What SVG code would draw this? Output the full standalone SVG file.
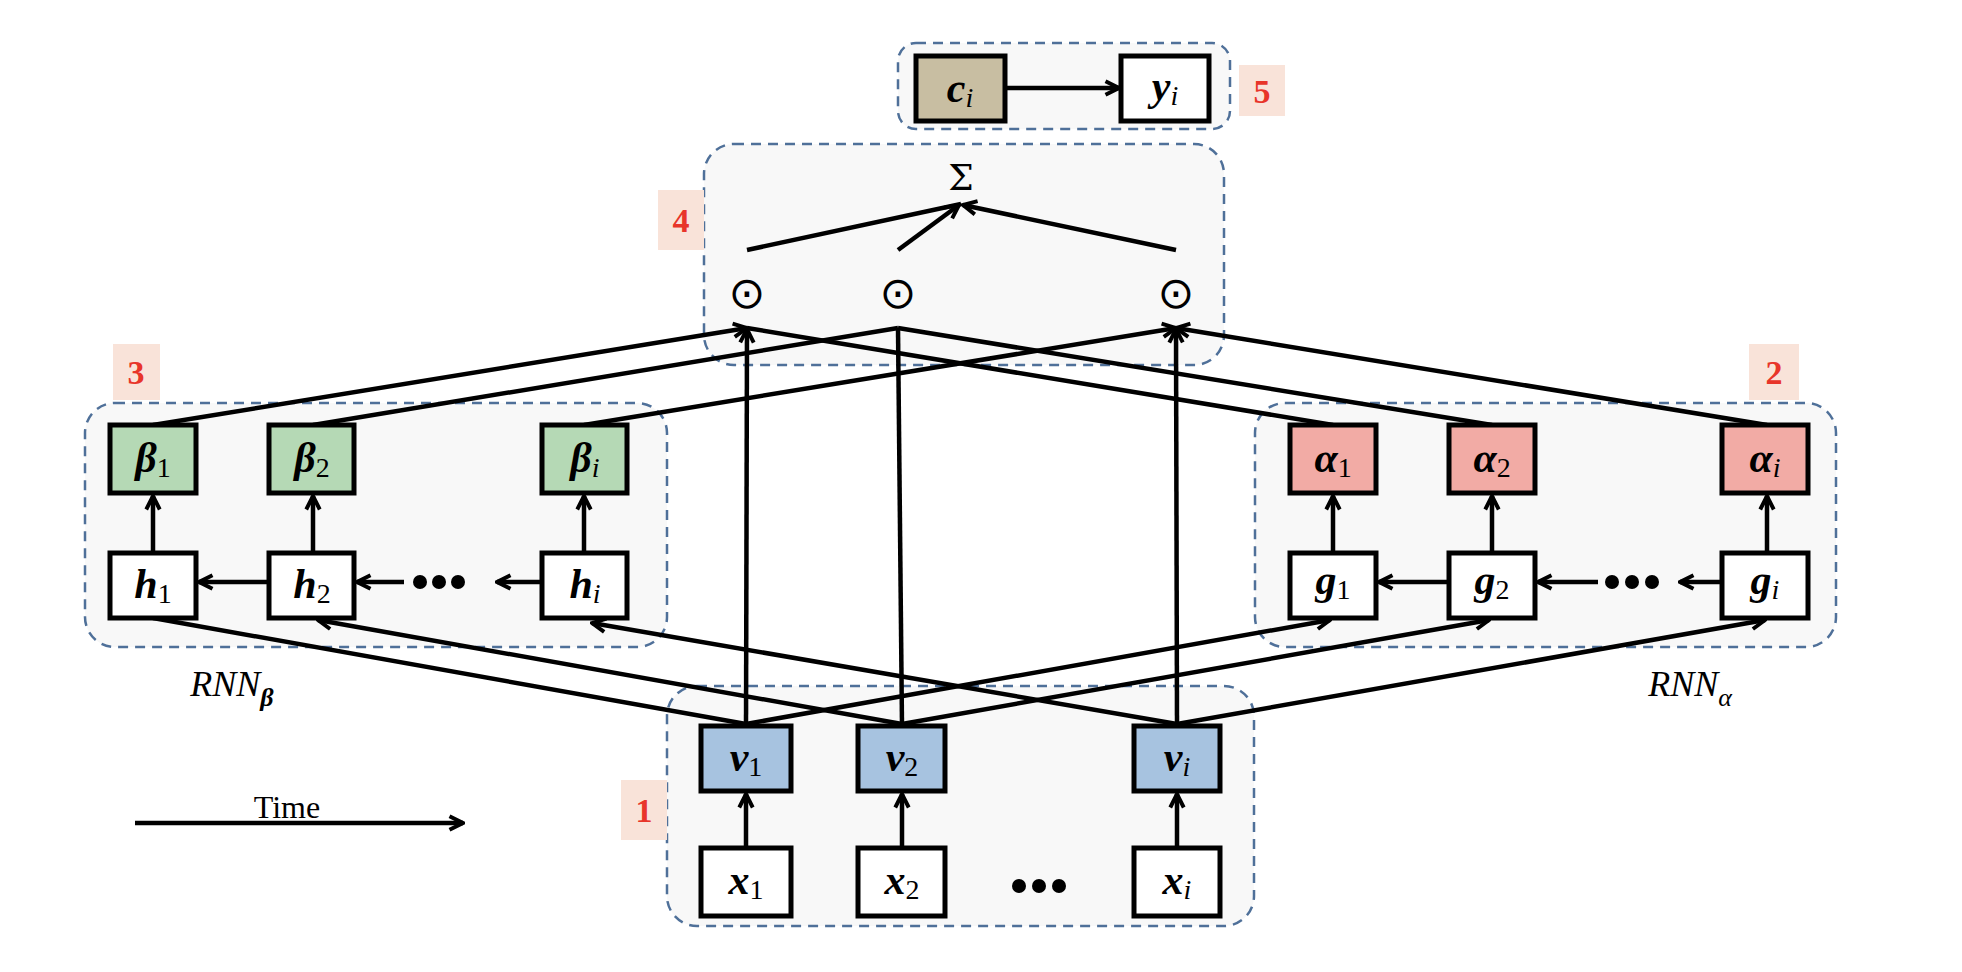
<svg xmlns="http://www.w3.org/2000/svg" width="1962" height="972" viewBox="0 0 1962 972">
<defs>
<marker id="ah" viewBox="0 0 16 16" refX="14" refY="8" markerWidth="18" markerHeight="18" markerUnits="userSpaceOnUse" orient="auto">
<path d="M2,2 L14,8 L2,14" fill="none" stroke="#000" stroke-width="3.5"/>
</marker>
<style>
.grp{fill:#f8f8f8;stroke:#4f7099;stroke-width:2.5;stroke-dasharray:10,7}
.box{stroke:#000;stroke-width:5}
.w{fill:#fff}.gr{fill:#b5d9b5}.rd{fill:#f2aba5}.bl{fill:#a7c3e0}.br{fill:#c8bea2}
.ln{stroke:#000;stroke-width:4.5;fill:none}
.ar{stroke:#000;stroke-width:4.5;fill:none;marker-end:url(#ah)}
.m{font-family:"Liberation Serif","DejaVu Serif",serif;font-style:italic;font-weight:bold;font-size:42px;text-anchor:middle}
.s{font-weight:normal;font-size:28px}
.n{font-style:normal}
.lb{fill:#f9e3d9}
.lt{font-family:"Liberation Serif",serif;font-weight:bold;font-size:34px;fill:#e8352a;text-anchor:middle}
.dot{fill:#000}
.od{font-family:"DejaVu Sans",sans-serif;font-size:44px;text-anchor:middle}
</style>
</defs>
<g id="group1"><rect class="grp" x="667" y="686" width="587" height="240" rx="30"/></g>
<g id="group2"><rect class="grp" x="1255" y="403" width="581" height="244" rx="30"/></g>
<g id="group3"><rect class="grp" x="85" y="403" width="582" height="244" rx="30"/></g>
<g id="group4"><rect class="grp" x="704" y="144" width="520" height="221" rx="30"/></g>
<g id="group5"><rect class="grp" x="898" y="43" width="332" height="86" rx="18"/></g>
<g id="labels">
<rect class="lb" x="1239" y="65" width="46" height="51"/><text class="lt" x="1262" y="103">5</text>
<rect class="lb" x="658" y="190" width="46" height="60"/><text class="lt" x="681" y="232">4</text>
<rect class="lb" x="113" y="344" width="47" height="56"/><text class="lt" x="136" y="384">3</text>
<rect class="lb" x="1749" y="344" width="50" height="56"/><text class="lt" x="1774" y="384">2</text>
<rect class="lb" x="621" y="780" width="46" height="60"/><text class="lt" x="644" y="822">1</text>
</g>
<g id="connectors">
<line class="ar" x1="1005" y1="88" x2="1119" y2="88"/>
<line class="ln" x1="747" y1="250" x2="961" y2="204"/>
<line class="ar" x1="898" y1="250" x2="959" y2="205"/>
<line class="ar" x1="1176" y1="250" x2="963" y2="205"/>
<line class="ar" x1="153" y1="425" x2="747" y2="328"/>
<line class="ln" x1="313" y1="425" x2="898" y2="328"/>
<line class="ar" x1="584" y1="425" x2="1176" y2="328"/>
<line class="ln" x1="1333" y1="425" x2="747" y2="328"/>
<line class="ln" x1="1492" y1="425" x2="898" y2="328"/>
<line class="ar" x1="1767" y1="425" x2="1176" y2="328"/>
<line class="ar" x1="746" y1="726" x2="747" y2="329"/>
<line class="ln" x1="902" y1="726" x2="898" y2="328"/>
<line class="ar" x1="1177" y1="726" x2="1176" y2="329"/>
<line class="ln" x1="153" y1="618" x2="746" y2="724"/>
<line class="ar" x1="902" y1="724" x2="318" y2="620"/>
<line class="ar" x1="1177" y1="724" x2="592" y2="623"/>
<line class="ar" x1="746" y1="724" x2="1330" y2="620"/>
<line class="ar" x1="902" y1="724" x2="1489" y2="620"/>
<line class="ar" x1="1177" y1="724" x2="1765" y2="620"/>
<line class="ar" x1="153" y1="553" x2="153" y2="496"/>
<line class="ar" x1="313" y1="553" x2="313" y2="496"/>
<line class="ar" x1="584" y1="553" x2="584" y2="496"/>
<line class="ar" x1="1333" y1="553" x2="1333" y2="496"/>
<line class="ar" x1="1492" y1="553" x2="1492" y2="496"/>
<line class="ar" x1="1767" y1="553" x2="1767" y2="496"/>
<line class="ar" x1="746" y1="848" x2="746" y2="794"/>
<line class="ar" x1="902" y1="848" x2="902" y2="794"/>
<line class="ar" x1="1177" y1="848" x2="1177" y2="794"/>
<line class="ar" x1="269" y1="582" x2="199" y2="582"/>
<line class="ar" x1="404" y1="582" x2="357" y2="582"/>
<line class="ar" x1="542" y1="582" x2="497" y2="582"/>
<line class="ar" x1="1449" y1="582" x2="1379" y2="582"/>
<line class="ar" x1="1598" y1="582" x2="1538" y2="582"/>
<line class="ar" x1="1722" y1="582" x2="1680" y2="582"/>
<line class="ar" x1="135" y1="823" x2="463" y2="823"/>
</g>
<g id="dots">
<circle class="dot" cx="420" cy="582" r="7"/><circle class="dot" cx="439" cy="582" r="7"/><circle class="dot" cx="458" cy="582" r="7"/>
<circle class="dot" cx="1612" cy="582" r="7"/><circle class="dot" cx="1632" cy="582" r="7"/><circle class="dot" cx="1652" cy="582" r="7"/>
<circle class="dot" cx="1019" cy="886" r="7"/><circle class="dot" cx="1039" cy="886" r="7"/><circle class="dot" cx="1059" cy="886" r="7"/>
</g>
<g id="n_c"><rect class="box br" x="916" y="56" width="89" height="65"/><text class="m" x="960" y="102">c<tspan class="s" dy="5">i</tspan></text></g>
<g id="n_y"><rect class="box w" x="1121" y="56" width="88" height="65"/><text class="m" x="1165" y="100">y<tspan class="s" dy="5">i</tspan></text></g>
<g id="n_sum"><text x="961" y="190" font-family="DejaVu Serif,serif" font-size="36" text-anchor="middle">Σ</text></g>
<g id="n_o1"><text class="od" x="747" y="308">⊙</text></g>
<g id="n_o2"><text class="od" x="898" y="308">⊙</text></g>
<g id="n_oi"><text class="od" x="1176" y="308">⊙</text></g>
<g id="n_b1"><rect class="box gr" x="110" y="425" width="86" height="68"/><text class="m" x="153" y="472">β<tspan class="s n" dy="5">1</tspan></text></g>
<g id="n_b2"><rect class="box gr" x="269" y="425" width="85" height="68"/><text class="m" x="312" y="472">β<tspan class="s n" dy="5">2</tspan></text></g>
<g id="n_bi"><rect class="box gr" x="542" y="425" width="85" height="68"/><text class="m" x="585" y="472">β<tspan class="s" dy="5">i</tspan></text></g>
<g id="n_h1"><rect class="box w" x="110" y="553" width="86" height="65"/><text class="m" x="153" y="598">h<tspan class="s n" dy="5">1</tspan></text></g>
<g id="n_h2"><rect class="box w" x="269" y="553" width="85" height="65"/><text class="m" x="312" y="598">h<tspan class="s n" dy="5">2</tspan></text></g>
<g id="n_hi"><rect class="box w" x="542" y="553" width="85" height="65"/><text class="m" x="585" y="598">h<tspan class="s" dy="5">i</tspan></text></g>
<g id="n_a1"><rect class="box rd" x="1290" y="425" width="86" height="68"/><text class="m" x="1333" y="472">α<tspan class="s n" dy="5">1</tspan></text></g>
<g id="n_a2"><rect class="box rd" x="1449" y="425" width="86" height="68"/><text class="m" x="1492" y="472">α<tspan class="s n" dy="5">2</tspan></text></g>
<g id="n_ai"><rect class="box rd" x="1722" y="425" width="86" height="68"/><text class="m" x="1765" y="472">α<tspan class="s" dy="5">i</tspan></text></g>
<g id="n_g1"><rect class="box w" x="1290" y="553" width="86" height="65"/><text class="m" x="1333" y="594">g<tspan class="s n" dy="5">1</tspan></text></g>
<g id="n_g2"><rect class="box w" x="1449" y="553" width="86" height="65"/><text class="m" x="1492" y="594">g<tspan class="s n" dy="5">2</tspan></text></g>
<g id="n_gi"><rect class="box w" x="1722" y="553" width="86" height="65"/><text class="m" x="1765" y="594">g<tspan class="s" dy="5">i</tspan></text></g>
<g id="n_v1"><rect class="box bl" x="701" y="726" width="90" height="65"/><text class="m" x="746" y="771">v<tspan class="s n" dy="5">1</tspan></text></g>
<g id="n_v2"><rect class="box bl" x="858" y="726" width="87" height="65"/><text class="m" x="902" y="771">v<tspan class="s n" dy="5">2</tspan></text></g>
<g id="n_vi"><rect class="box bl" x="1134" y="726" width="86" height="65"/><text class="m" x="1177" y="771">v<tspan class="s" dy="5">i</tspan></text></g>
<g id="n_x1"><rect class="box w" x="701" y="848" width="90" height="68"/><text class="m" x="746" y="894">x<tspan class="s n" dy="5">1</tspan></text></g>
<g id="n_x2"><rect class="box w" x="858" y="848" width="87" height="68"/><text class="m" x="902" y="894">x<tspan class="s n" dy="5">2</tspan></text></g>
<g id="n_xi"><rect class="box w" x="1134" y="848" width="86" height="68"/><text class="m" x="1177" y="894">x<tspan class="s" dy="5">i</tspan></text></g>
<g id="captions" font-family="Liberation Serif,serif">
<text x="287" y="818" font-size="32" text-anchor="middle">Time</text>
<text x="232" y="696" font-size="36" font-style="italic" text-anchor="middle">RNN<tspan font-size="26" font-weight="bold" dy="10">β</tspan></text>
<text x="1690" y="696" font-size="36" font-style="italic" text-anchor="middle">RNN<tspan font-size="26" dy="10">α</tspan></text>
</g>
</svg>
